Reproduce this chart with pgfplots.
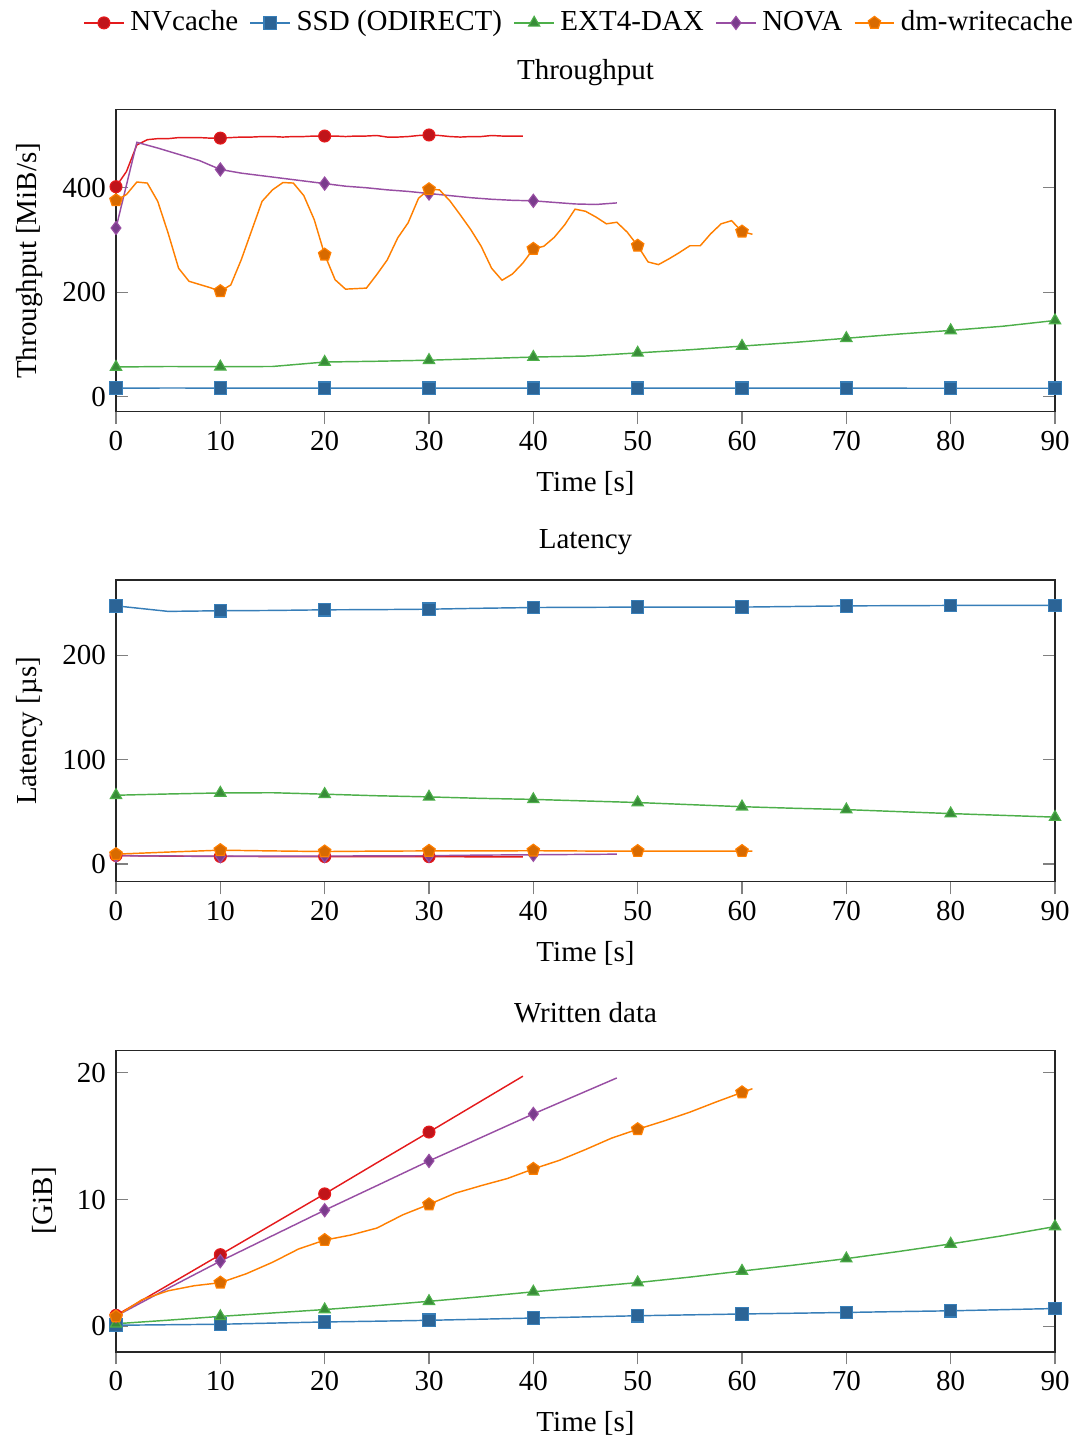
\documentclass[border=0pt]{standalone}
\usepackage{fontspec}
\setmainfont{Liberation Serif}
\usepackage{pgfplots}
\pgfplotsset{compat=1.18}
\definecolor{nvl}{RGB}{228,26,28}\definecolor{nvm}{RGB}{192,20,26}
\definecolor{ssl}{RGB}{55,126,184}\definecolor{ssm}{RGB}{44,100,150}
\definecolor{exl}{RGB}{77,175,74}\definecolor{exm}{RGB}{56,140,56}
\definecolor{nol}{RGB}{152,78,163}\definecolor{nom}{RGB}{122,60,140}
\definecolor{dml}{RGB}{255,127,0}\definecolor{dmm}{RGB}{216,106,0}
\pgfplotsset{
  myaxis/.style={width=323.8pt, height=104.1pt, scale only axis,
    xmin=0, xmax=90, xtick={0,10,...,90}, xtick pos=left, xtick align=outside,
    ytick pos=both, ytick align=inside,
    major tick style={gray, thin}, axis line style={black!85},
    /pgf/number format/assume math mode=true,
    xticklabel style={yshift=1pt},
    xlabel={Time [s]},
    title style={anchor=center, yshift=7pt},
    every axis plot/.append style={line width=0.5pt},
  },
  nvc/.style={color=nvl, mark=*, mark size=2.05pt, mark options={fill=nvm, draw=nvl, line width=0.4pt}},
  ssd/.style={color=ssl, mark=square*, mark size=2.15pt, mark options={fill=ssm, draw=ssl, line width=0.4pt}},
  ext/.style={color=exl, mark=triangle*, mark size=2.25pt, mark options={fill=exm, draw=exl, line width=0.4pt}},
  nova/.style={color=nol, mark=diamond*, mark size=2.25pt, mark options={fill=nom, draw=nol, line width=0.4pt}},
  dmw/.style={color=dml, mark=pentagon*, mark size=2.25pt, mark options={fill=dmm, draw=dml, line width=0.4pt}},
}
\begin{document}
\begin{tikzpicture}
% ---------------- Throughput ----------------
\begin{axis}[myaxis, at={(0,0)}, anchor=north west,
  title={Throughput}, ylabel={Throughput [MiB/s]},
  ymin=-28.7, ymax=549, ytick={0,200,400},
  legend style={at={(0.5,1)}, anchor=center, yshift=30pt, xshift=-1.5pt, draw=none, fill=none,
    legend columns=-1, nodes={inner xsep=2pt},
    /tikz/every even column/.append style={column sep=2pt}},
  legend image code/.code={\draw[mark repeat=2,mark phase=2] plot coordinates {(0cm,0cm) (0.24cm,0cm) (0.48cm,0cm)};},
]
\addplot[nvc, mark repeat=10] coordinates {
(0,402)(1,431)(2,482)(3,492)(4,494)(5,494)(6,496)(7,496)(8,496)(9,495)
(10,495)(11,496)(12,497)(13,497)(14,498)(15,498)(16,497)(17,498)(18,498)(19,499)
(20,499)(21,499)(22,498)(23,499)(24,499)(25,500)(26,497)(27,497)(28,498)(29,500)
(30,501)(31,500)(32,498)(33,497)(34,498)(35,498)(36,500)(37,499)(38,499)(39,499)};
\addlegendentry{NVcache}
\addplot[ssd, mark repeat=2] coordinates {
(0,16.6)(5,16.8)(10,16.7)(15,16.6)(20,16.5)(25,16.6)(30,16.5)(35,16.4)(40,16.5)(45,16.4)
(50,16.5)(55,16.6)(60,16.5)(65,16.4)(70,16.5)(75,16.4)(80,16.3)(85,16.3)(90,16.3)};
\addlegendentry{SSD (ODIRECT)}
\addplot[ext, mark repeat=2] coordinates {
(0,57)(5,58)(10,57.5)(15,58)(20,66.5)(25,68)(30,70)(35,73)(40,76)(45,78)
(50,84)(55,90)(60,97)(65,104)(70,112)(75,120)(80,127)(85,135)(90,146)};
\addlegendentry{EXT4-DAX}
\addplot[nova, mark repeat=5] coordinates {
(0,323)(2,487)(4,476)(6,464)(8,452)(10,435)(12,428)(14,423)(16,418)(18,413)
(20,408)(22,403)(24,400)(26,396)(28,393)(30,389)(32,385)(34,381)(36,378)(38,376)
(40,375)(42,372)(44,369)(46,368)(48,371)};
\addlegendentry{NOVA}
\addplot[dmw, mark repeat=10] coordinates {
(0,376)(1,387)(2,411)(3,409)(4,374)(5,313)(6,246)(7,221)(8,215)(9,209)
(10,202)(11,214)(12,262)(13,318)(14,374)(15,396)(16,410)(17,409)(18,385)(19,339)
(20,272)(21,224)(22,206)(23,207)(24,208)(25,234)(26,262)(27,304)(28,333)(29,380)
(30,397)(31,396)(32,375)(33,348)(34,320)(35,288)(36,246)(37,223)(38,235)(39,256)
(40,283)(41,288)(42,305)(43,329)(44,359)(45,355)(46,344)(47,331)(48,334)(49,315)
(50,289)(51,258)(52,253)(53,264)(54,276)(55,289)(56,289)(57,312)(58,331)(59,337)
(60,316)(61,311)};
\addlegendentry{dm-writecache}
\end{axis}
% ---------------- Latency ----------------
\begin{axis}[myaxis, at={(0,-162.1pt)}, anchor=north west,
  title={Latency}, ylabel={Latency [µs]},
  ymin=-17.1, ymax=272.4, ytick={0,100,200},
]
\addplot[nvc, mark repeat=2] coordinates {
(0,8.2)(5,7.6)(10,7.3)(15,7.2)(20,7.2)(25,7.2)(30,7.1)(39,6.8)};
\addplot[ssd, mark repeat=2] coordinates {
(0,247.6)(5,242.3)(10,242.9)(15,243.2)(20,243.8)(25,244)(30,244.4)(35,245.3)(40,246)(45,246.2)
(50,246.4)(55,246.4)(60,246.4)(65,247)(70,247.6)(75,247.8)(80,248)(85,248)(90,248)};
\addplot[ext, mark repeat=2] coordinates {
(0,66)(5,67.2)(10,68.2)(15,68.4)(20,67)(25,65.5)(30,64.4)(35,63)(40,62)(45,60.5)
(50,59)(55,57)(60,55)(65,53.5)(70,52.2)(75,50.3)(80,48.4)(85,46.7)(90,45)};
\addplot[nova, mark repeat=2] coordinates {
(0,8)(5,7.8)(10,7.5)(15,7.6)(20,7.7)(25,7.8)(30,8)(35,8.6)(40,8.9)(48,9.5)};
\addplot[dmw, mark repeat=2] coordinates {
(0,9.5)(5,11.5)(10,13.3)(15,12.6)(20,12)(25,12.4)(30,12.6)(35,12.6)(40,12.8)(45,12.5)
(50,12.4)(55,12.4)(60,12.4)(61,12.4)};
\end{axis}
% ---------------- Written data ----------------
\begin{axis}[myaxis, at={(0,-324.2pt)}, anchor=north west,
  title={Written data}, ylabel={[GiB]},
  ymin=-2.03, ymax=21.8, ytick={0,10,20},
]
\addplot[nvc, mark repeat=2] coordinates {
(0,0.86)(5,3.25)(10,5.65)(15,8.05)(20,10.45)(25,12.9)(30,15.33)(39,19.74)};
\addplot[ssd, mark repeat=2] coordinates {
(0,0.08)(5,0.12)(10,0.16)(15,0.25)(20,0.34)(25,0.4)(30,0.47)(35,0.56)(40,0.65)(45,0.74)
(50,0.83)(55,0.9)(60,0.97)(65,1.03)(70,1.09)(75,1.16)(80,1.22)(85,1.31)(90,1.4)};
\addplot[ext, mark repeat=2] coordinates {
(0,0.2)(5,0.48)(10,0.78)(15,1.05)(20,1.32)(25,1.63)(30,1.97)(35,2.33)(40,2.72)(45,3.08)
(50,3.45)(55,3.88)(60,4.36)(65,4.83)(70,5.34)(75,5.9)(80,6.5)(85,7.15)(90,7.87)};
\addplot[nova, mark repeat=2] coordinates {
(0,0.8)(5,3.0)(10,5.14)(15,7.15)(20,9.16)(25,11.1)(30,13.05)(35,14.9)(40,16.76)(48,19.6)};
\addplot[dmw, mark repeat=4] coordinates {
(0,0.77)(2.5,2.1)(5,2.8)(7.5,3.2)(10,3.44)(12.5,4.15)(15,5.05)(17.5,6.1)(20,6.8)(22.5,7.2)
(25,7.75)(27.5,8.8)(30,9.62)(32.5,10.5)(35,11.1)(37.5,11.66)(40,12.42)(42.5,13.1)(45,13.95)(47.5,14.85)
(50,15.55)(52.5,16.2)(55,16.9)(57.5,17.7)(60,18.46)(61,18.75)};
\end{axis}
\pgfresetboundingbox
\path[use as bounding box] (-40pt,37.9pt) rectangle (334.5pt,-459pt);
\end{tikzpicture}
\end{document}
